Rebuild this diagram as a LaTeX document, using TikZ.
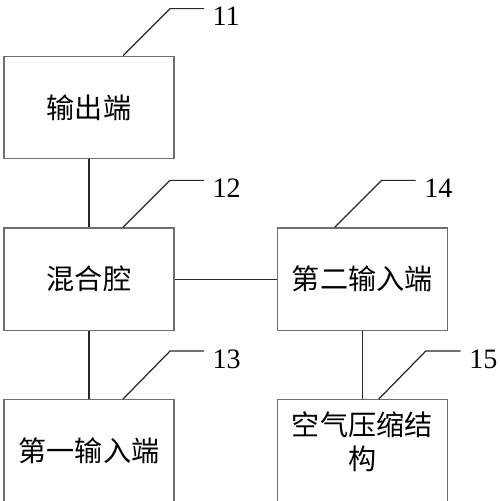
\documentclass[tikz,border=0pt]{standalone}
\usepackage{fontspec}
\setmainfont{Liberation Serif}
\newfontfamily\cjk{Noto Sans CJK SC}
\usetikzlibrary{positioning}
\definecolor{colorbox}  {RGB}{110,110,110}
\definecolor{colorline} {RGB}{40 ,40 ,40 }

\begin{document}
\begin{tikzpicture}[
    node distance = 1.36cm and 2.04cm,
    font={\cjk\fontsize{16pt}{19pt}\selectfont},
    block/.style={draw=colorbox,line width=0.7pt,minimum width=3.4cm,minimum height=2.05cm,inner sep=0pt,align=center,rectangle},
    link/.style={draw=colorline,line width=0.7pt},
    leader/.style={draw=colorline,line width=0.7pt},
    tag/.style={anchor=north west,inner sep=0pt,xshift=0.16cm,yshift=0.04cm,font={\rmfamily\fontsize{16pt}{18pt}\selectfont}},
]
    \useasboundingbox (0,0) rectangle (10,-10.02);

    % Nodes
    \node[block] at (1.78,-2.15)          (output)     {输出端};
    \node[block,below=of output]          (mixing)     {混合腔};
    \node[block,below=of mixing]          (inputone)   {第一输入端};
    \node[block,right=of mixing]          (inputtwo)   {第二输入端};
    \node[block,below=of inputtwo]        (compressor) {空气压缩结\\构\vphantom{空}\\[-0.25cm]};

    % Links
    \draw[link] (output) -- (mixing);
    \draw[link] (mixing) -- (inputone);
    \draw[link] (mixing) -- (inputtwo);
    \draw[link] (inputtwo) -- (compressor);

    % Labels
    \draw[leader] ([xshift=0.68cm]output.north)      -- ++(0.94,0.94) -- ++(0.68,0) node[tag] {11};
    \draw[leader] ([xshift=0.68cm]mixing.north)      -- ++(0.94,0.94) -- ++(0.68,0) node[tag] {12};
    \draw[leader] ([xshift=0.68cm]inputone.north)    -- ++(0.94,0.96) -- ++(0.68,0) node[tag] {13};
    \draw[leader] ([xshift=-0.55cm]inputtwo.north)   -- ++(0.94,0.94) -- ++(0.68,0) node[tag] {14};
    \draw[leader] ([xshift=0.33cm]compressor.north)  -- ++(0.94,0.96) -- ++(0.70,0) node[tag] {15};

\end{tikzpicture}
\end{document}
